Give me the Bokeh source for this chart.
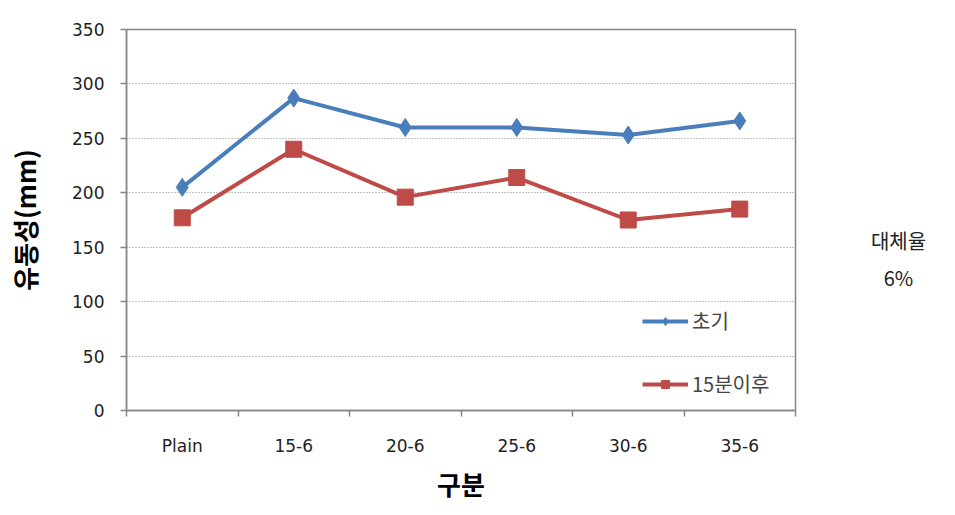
from bokeh.plotting import figure
from bokeh.layouts import row
from bokeh.models import FixedTicker, Legend, LegendItem, Label, Range1d
from bokeh.embed import file_html
from bokeh.resources import INLINE

categories = ["Plain", "15-6", "20-6", "25-6", "30-6", "35-6"]
initial = [205, 287, 260, 260, 253, 266]
after15 = [177, 240, 196, 214, 175, 185]
y_ticks = [0, 50, 100, 150, 200, 250, 300, 350]
series_names = ["초기", "15분이후"]
side_text = ["대체율", "6%"]

KFONT = "Noto Sans CJK KR"
NFONT = "DejaVu Sans"
BLUE = "#4A7EBB"
RED = "#BE4B48"
GRAY = "#868686"

xs = [i + 0.5 for i in range(len(categories))]

p = figure(width=800, height=515, output_backend="svg", toolbar_location=None,
           x_range=Range1d(0, len(categories)), y_range=Range1d(0, 350),
           min_border_left=126, min_border_right=5, min_border_top=29, min_border_bottom=105)
p.outline_line_color = GRAY
p.outline_line_width = 1.5
p.background_fill_color = "white"
p.border_fill_color = "white"

r1 = p.line(xs, initial, line_color=BLUE, line_width=4)
m1 = p.scatter(xs, initial, marker="diamond", size=18, fill_color=BLUE, line_color=BLUE)
r2 = p.line(xs, after15, line_color=RED, line_width=4)
m2 = p.scatter(xs, after15, marker="square", size=16, fill_color=RED, line_color=RED)

# x axis
p.xaxis.ticker = FixedTicker(ticks=xs, minor_ticks=list(range(len(categories) + 1)))
p.xaxis.major_label_overrides = {x: c for x, c in zip(xs, categories)}
p.xaxis.major_tick_out = 0
p.xaxis.major_tick_in = 0
p.xaxis.minor_tick_out = 6
p.xaxis.minor_tick_in = 0
p.xaxis.minor_tick_line_color = GRAY
p.xaxis.minor_tick_line_width = 1.5
p.xaxis.major_label_standoff = 19
p.xaxis.axis_label = "구분"
p.xaxis.axis_label_standoff = 6

# y axis
p.yaxis.ticker = FixedTicker(ticks=y_ticks, minor_ticks=[])
p.yaxis.major_tick_out = 6
p.yaxis.major_tick_in = 0
p.yaxis.major_tick_line_color = GRAY
p.yaxis.major_tick_line_width = 1.5
p.yaxis.major_label_standoff = 16
p.yaxis.axis_label = "유동성(mm)"
p.yaxis.axis_label_standoff = 26

for ax in (p.xaxis, p.yaxis):
    ax.axis_line_color = GRAY
    ax.axis_line_width = 1.5
    ax.major_label_text_font = NFONT
    ax.major_label_text_font_size = "17px"
    ax.major_label_text_color = "#222222"
    ax.axis_label_text_font = KFONT
    ax.axis_label_text_font_size = "26px"
    ax.axis_label_text_font_style = "bold"
    ax.axis_label_text_color = "#000000"

p.xgrid.visible = False
p.ygrid.ticker = FixedTicker(ticks=y_ticks[1:-1])
p.ygrid.grid_line_color = GRAY
p.ygrid.grid_line_dash = "1 2"
p.ygrid.grid_line_width = 1

legend = Legend(items=[LegendItem(label=series_names[0], renderers=[r1, m1]),
                       LegendItem(label=series_names[1], renderers=[r2, m2])],
                location=(516, 12), spacing=34, glyph_width=46, glyph_height=20,
                label_text_font=KFONT, label_text_font_size="20px", label_standoff=4,
                border_line_alpha=0, background_fill_alpha=0, padding=0)
p.add_layout(legend)

# side panel with the replacement-ratio note (its frame is aligned with the main frame)
p2 = figure(width=155, height=515, output_backend="svg", toolbar_location=None,
            x_range=Range1d(0, 1), y_range=Range1d(0, 1),
            min_border=0, outline_line_color=None)
p2.axis.visible = False
p2.grid.visible = False
p2.border_fill_color = "white"
p2.add_layout(Label(x=98, y=170, x_units="screen", y_units="screen", text=side_text[0],
                    text_font=KFONT, text_font_size="20px",
                    text_align="center", text_baseline="middle", text_color="#222222"))
p2.add_layout(Label(x=98, y=133, x_units="screen", y_units="screen", text=side_text[1],
                    text_font=KFONT, text_font_size="20px",
                    text_align="center", text_baseline="middle", text_color="#222222"))

layout = row(p, p2, spacing=0)
open("out.html", "w").write(file_html(layout, INLINE))
